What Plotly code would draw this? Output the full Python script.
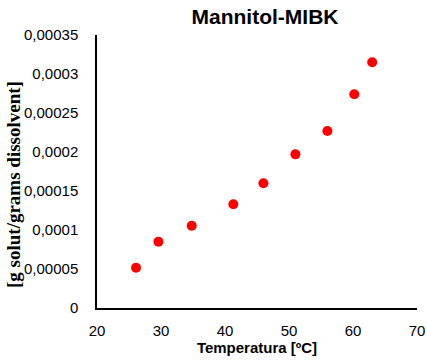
import plotly.graph_objects as go

# Solubility of mannitol in MIBK
temperatura = [26.1, 29.6, 34.8, 41.3, 46.0, 51.0, 56.0, 60.2, 63.0]
solubilitat = [0.0000517, 0.000085, 0.0001055, 0.000133, 0.00016, 0.000197, 0.000227, 0.000274, 0.000315]

x_ticks = [20, 30, 40, 50, 60, 70]
y_ticks = [0, 0.00005, 0.0001, 0.00015, 0.0002, 0.00025, 0.0003, 0.00035]
y_ticktext = ["0", "0,00005", "0,0001", "0,00015", "0,0002", "0,00025", "0,0003", "0,00035"]

W, H = 427, 364

fig = go.Figure(
    go.Scatter(
        x=temperatura,
        y=solubilitat,
        mode="markers",
        marker=dict(color="#ff0000", size=10),
        showlegend=False,
        cliponaxis=False,
    )
)

fig.update_layout(
    width=W,
    height=H,
    margin=dict(l=97, r=10, t=35, b=56, autoexpand=False),
    paper_bgcolor="white",
    plot_bgcolor="white",
    font=dict(family="Liberation Sans, Arial, sans-serif", size=15, color="black"),
    title=dict(
        text="<b>Mannitol-MIBK</b>",
        x=265 / W,
        xanchor="center",
        y=1 - 17 / H,
        yanchor="middle",
        font=dict(size=21, family="Liberation Sans, Arial, sans-serif", color="black"),
    ),
    annotations=[
        dict(
            text="<b>[g solut/grams dissolvent]</b>",
            xref="paper",
            yref="paper",
            x=(13 - 97) / (W - 97 - 10),
            y=(H - 56 - 185) / (H - 35 - 56),
            xanchor="center",
            yanchor="middle",
            textangle=-90,
            showarrow=False,
            font=dict(size=19, family="Liberation Serif, Times New Roman, serif", color="black"),
        )
    ],
)

fig.update_xaxes(
    range=[20, 70],
    tickvals=x_ticks,
    showgrid=False,
    zeroline=False,
    showline=True,
    linecolor="black",
    linewidth=1.5,
    ticks="",
    automargin=False,
    ticklabelstandoff=8,
    title=dict(
        text="<b>Temperatura [ºC]</b>",
        font=dict(size=15, family="Liberation Sans, Arial, sans-serif"),
        standoff=4,
    ),
)

fig.update_yaxes(
    range=[0, 0.00035],
    tickvals=y_ticks,
    ticktext=y_ticktext,
    showgrid=False,
    zeroline=False,
    showline=True,
    linecolor="black",
    linewidth=1.5,
    ticks="",
    automargin=False,
    ticklabelstandoff=14,
)

fig.write_html("out.html")
